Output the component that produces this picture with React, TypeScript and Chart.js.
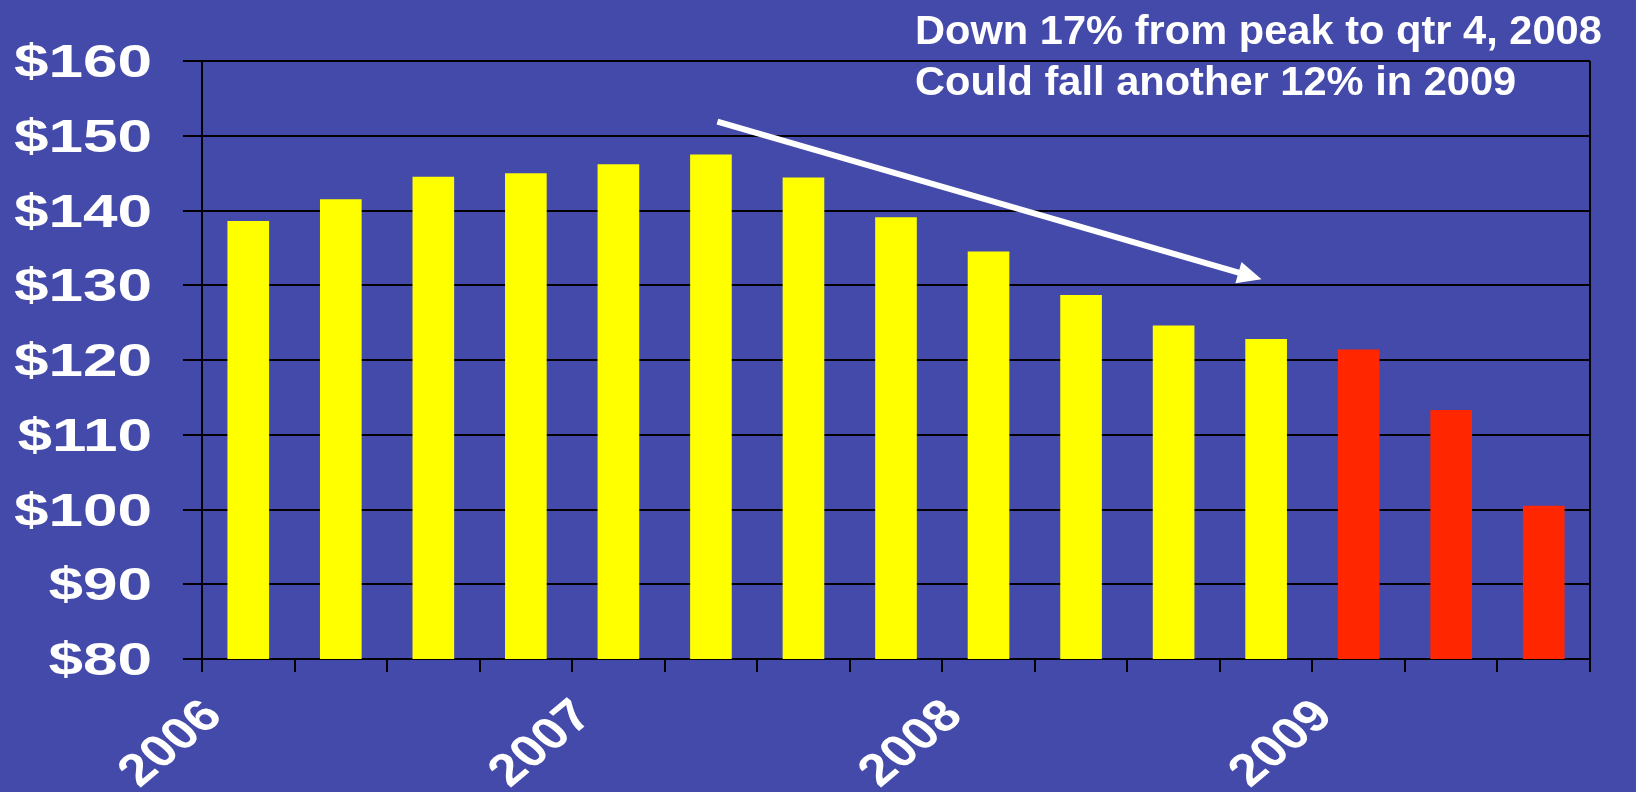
import React, { useEffect, useRef } from 'react';
import { Chart, registerables } from 'chart.js';

Chart.register(...registerables);

// Quarterly median price, thousands of dollars
const quarters = [
  '2006 Q1', '2006 Q2', '2006 Q3', '2006 Q4',
  '2007 Q1', '2007 Q2', '2007 Q3', '2007 Q4',
  '2008 Q1', '2008 Q2', '2008 Q3', '2008 Q4',
  '2009 Q1', '2009 Q2', '2009 Q3',
];
const actualPrices = [138.6, 141.5, 144.5, 145.0, 146.2, 147.5, 144.4, 139.1, 134.5, 128.7, 124.6, 122.8];
const forecastPrices = [121.4, 113.3, 100.5];

const yMin = 80;
const yMax = 160;
const yStep = 10;

const headline = ['Down 17% from peak to qtr 4, 2008', 'Could fall another 12% in 2009'];

// Trend arrow, in (quarter index, price) coordinates
const trendFrom = { quarter: 5.07, price: 151.9 };
const trendTo = { quarter: 10.95, price: 130.8 };

const BG = '#444AAA';
const ACTUAL_COLOR = '#FFFF00';
const FORECAST_COLOR = '#FF2600';
const FONT = "'Liberation Sans', Arial, Helvetica, sans-serif";

const W = 1636;
const H = 792;

const overlayPlugin = {
  id: 'overlay',
  beforeDatasetsDraw(chart: any) {
    const { ctx, chartArea } = chart;
    ctx.save();
    ctx.strokeStyle = '#000';
    ctx.lineWidth = 2;
    ctx.beginPath();
    ctx.moveTo(chartArea.right, chartArea.top);
    ctx.lineTo(chartArea.right, chartArea.bottom);
    ctx.stroke();
    ctx.restore();
  },
  afterDraw(chart: any) {
    const { ctx, chartArea, scales } = chart;
    const xs = scales.x;
    const ys = scales.y;

    // y-axis price labels (wide bold face)
    ctx.save();
    ctx.fillStyle = '#fff';
    ctx.font = `bold 47px ${FONT}`;
    ctx.textAlign = 'right';
    ctx.textBaseline = 'alphabetic';
    ys.ticks.forEach((t: any) => {
      const y = ys.getPixelForValue(t.value);
      ctx.save();
      ctx.translate(chartArea.left - 50, y + 16);
      ctx.scale(1.32, 1);
      ctx.fillText(`$${t.value}`, 0, 0);
      ctx.restore();
    });
    ctx.restore();

    // year labels at the first quarter of each year
    ctx.save();
    ctx.fillStyle = '#fff';
    ctx.font = `bold 45px ${FONT}`;
    ctx.textAlign = 'right';
    ctx.textBaseline = 'middle';
    quarters.forEach((q, i) => {
      if (!q.endsWith('Q1')) return;
      const bx = xs.getPixelForValue(i - 0.5);
      ctx.save();
      ctx.translate(bx + 12, chartArea.bottom + 50);
      ctx.scale(1.2, 1);
      ctx.rotate(-Math.PI / 4);
      ctx.fillText(q.slice(0, 4), 0, 0);
      ctx.restore();
    });
    ctx.restore();

    // trend arrow
    const x1 = xs.getPixelForValue(trendFrom.quarter);
    const y1 = ys.getPixelForValue(trendFrom.price);
    const x2 = xs.getPixelForValue(trendTo.quarter);
    const y2 = ys.getPixelForValue(trendTo.price);
    const ang = Math.atan2(y2 - y1, x2 - x1);
    const headLen = 24;
    const headHalf = 11;
    ctx.save();
    ctx.strokeStyle = '#fff';
    ctx.fillStyle = '#fff';
    ctx.lineWidth = 6;
    ctx.lineCap = 'butt';
    ctx.beginPath();
    ctx.moveTo(x1, y1);
    ctx.lineTo(x2 - Math.cos(ang) * (headLen - 2), y2 - Math.sin(ang) * (headLen - 2));
    ctx.stroke();
    ctx.beginPath();
    ctx.moveTo(x2, y2);
    const bx = x2 - Math.cos(ang) * headLen;
    const by = y2 - Math.sin(ang) * headLen;
    ctx.lineTo(bx + Math.sin(ang) * headHalf, by - Math.cos(ang) * headHalf);
    ctx.lineTo(bx - Math.sin(ang) * headHalf, by + Math.cos(ang) * headHalf);
    ctx.closePath();
    ctx.fill();
    ctx.restore();

    // headline
    ctx.save();
    ctx.fillStyle = '#fff';
    ctx.font = `bold 41px ${FONT}`;
    ctx.textAlign = 'left';
    ctx.textBaseline = 'alphabetic';
    headline.forEach((line, i) => {
      ctx.save();
      ctx.translate(915, 44 + i * 50.5);
      ctx.scale(1.015, 1);
      ctx.fillText(line, 0, 0);
      ctx.restore();
    });
    ctx.restore();
  },
};

export default function App() {
  const canvasRef = useRef<HTMLCanvasElement | null>(null);

  useEffect(() => {
    const canvas = canvasRef.current;
    if (!canvas) return;
    const prices = [...actualPrices, ...forecastPrices];
    const colors = prices.map((_, i) => (i < actualPrices.length ? ACTUAL_COLOR : FORECAST_COLOR));

    const chart = new Chart(canvas, {
      type: 'bar',
      data: {
        labels: quarters,
        datasets: [
          {
            data: prices,
            backgroundColor: colors,
            borderWidth: 0,
            barPercentage: 0.45,
            categoryPercentage: 1,
          },
        ],
      },
      options: {
        responsive: false,
        devicePixelRatio: 1,
        animation: false,
        layout: { padding: { top: 61, right: 46, left: 0, bottom: 0 } },
        plugins: {
          legend: { display: false },
          tooltip: { enabled: false },
          title: { display: false },
        },
        scales: {
          x: {
            offset: true,
            grid: {
              offset: true,
              drawOnChartArea: false,
              drawTicks: true,
              tickLength: 13,
              color: '#000',
              lineWidth: 2,
            },
            border: { display: true, color: '#000', width: 2 },
            ticks: { display: false },
            afterFit(scale: any) {
              scale.height = H - 659;
            },
          },
          y: {
            min: yMin,
            max: yMax,
            ticks: { display: false, stepSize: yStep },
            grid: {
              color: '#000',
              lineWidth: 2,
              drawTicks: true,
              tickLength: 19,
            },
            border: { display: true, color: '#000', width: 2 },
            afterFit(scale: any) {
              scale.width = 202;
            },
          },
        },
      },
      plugins: [overlayPlugin],
    });

    return () => chart.destroy();
  }, []);

  return (
    <div
      style={{
        position: 'fixed',
        left: 0,
        top: 0,
        width: W,
        height: H,
        background: BG,
        overflow: 'hidden',
      }}
    >
      <canvas
        ref={canvasRef}
        width={W}
        height={H}
        style={{ display: 'block', width: `${W}px`, height: `${H}px` }}
      />
    </div>
  );
}
